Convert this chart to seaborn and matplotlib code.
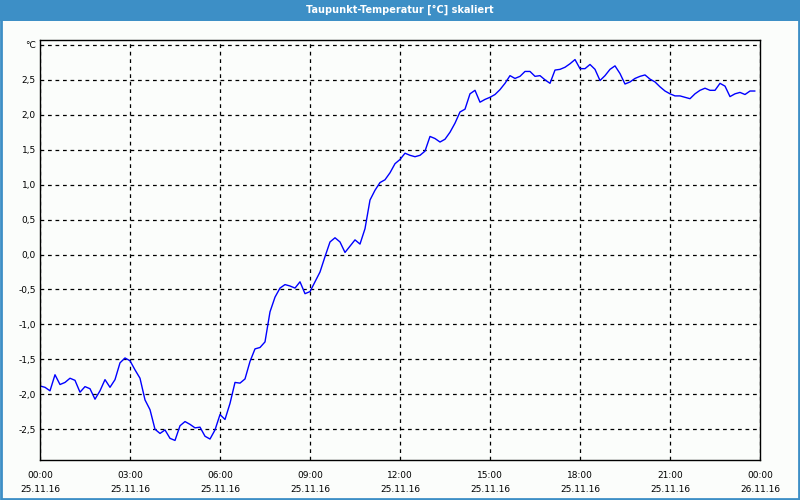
import numpy as np
import pandas as pd
import seaborn as sns
import matplotlib.pyplot as plt
import matplotlib.dates as mdates
from matplotlib.patches import Rectangle

# dew point, one reading every 10 minutes from 25.11.16 00:00
start = "2016-11-25 00:00"
step = "10min"
taupunkt = [
    -1.88, -1.90, -1.95, -1.72, -1.86, -1.83, -1.77, -1.80, -1.97, -1.89,
    -1.92, -2.07, -1.95, -1.79, -1.90, -1.79, -1.55, -1.48, -1.52, -1.65,
    -1.77, -2.08, -2.22, -2.50, -2.56, -2.51, -2.63, -2.66, -2.45, -2.39,
    -2.43, -2.48, -2.47, -2.60, -2.64, -2.51, -2.29, -2.36, -2.13, -1.83,
    -1.84, -1.78, -1.53, -1.35, -1.33, -1.25, -0.82, -0.61, -0.48, -0.43,
    -0.45, -0.48, -0.39, -0.56, -0.53, -0.39, -0.25, -0.03, 0.18, 0.24,
    0.18, 0.03, 0.12, 0.21, 0.15, 0.37, 0.78, 0.92, 1.03, 1.07,
    1.17, 1.30, 1.36, 1.45, 1.42, 1.40, 1.42, 1.48, 1.69, 1.66,
    1.61, 1.65, 1.75, 1.88, 2.04, 2.08, 2.30, 2.35, 2.18, 2.22,
    2.25, 2.29, 2.36, 2.45, 2.56, 2.52, 2.55, 2.62, 2.62, 2.55,
    2.56, 2.50, 2.45, 2.64, 2.65, 2.68, 2.73, 2.79, 2.66, 2.66,
    2.72, 2.65, 2.49, 2.56, 2.65, 2.70, 2.59, 2.44, 2.47, 2.52,
    2.55, 2.57, 2.51, 2.47, 2.40, 2.34, 2.30, 2.27, 2.27, 2.25,
    2.23, 2.30, 2.35, 2.38, 2.35, 2.35, 2.45, 2.41, 2.26, 2.30,
    2.32, 2.29, 2.34, 2.34,
]
y_ticks = [-2.5, -2.0, -1.5, -1.0, -0.5, 0.0, 0.5, 1.0, 1.5, 2.0, 2.5, 3.0]
y_labels = ["-2,5", "-2,0", "-1,5", "-1,0", "-0,5", "0,0",
            "0,5", "1,0", "1,5", "2,0", "2,5", "°C"]
title = "Taupunkt-Temperatur [°C] skaliert"

df = pd.DataFrame({
    "zeit": pd.date_range(start, periods=len(taupunkt), freq=step),
    "wert": taupunkt,
})

sns.set_style("white")
plt.rcParams["font.family"] = ["DejaVu Sans"]

bg = "#fbfdfb"
blue = "#3d8fc6"

fig = plt.figure(figsize=(8, 5), dpi=100, facecolor=bg)
ax = fig.add_axes([0.05, 0.08, 0.90, 0.84])
ax.set_facecolor(bg)

sns.lineplot(data=df, x="zeit", y="wert", ax=ax, color="#0000ff", linewidth=1)

ax.set_xlim(pd.Timestamp("2016-11-25 00:00"), pd.Timestamp("2016-11-26 00:00"))
ax.set_ylim(-2.94, 3.07)
ax.set_yticks(y_ticks)
ax.set_yticklabels(y_labels)
ax.xaxis.set_major_locator(mdates.HourLocator(byhour=range(0, 24, 3)))
ax.xaxis.set_minor_locator(mdates.HourLocator())
ax.xaxis.set_major_formatter(mdates.DateFormatter("%H:%M\n%d.%m.%y"))
ax.set_xlabel("")
ax.set_ylabel("")

ax.grid(True, which="major", color="black", linestyle=(0, (3, 3)), linewidth=0.9)
ax.tick_params(axis="y", length=0, pad=3, labelsize=6.5, colors="black")
ax.tick_params(axis="x", which="both", direction="out", length=3, width=0.8,
               pad=5, labelsize=6.5, colors="black")
for s in ax.spines.values():
    s.set_color("black")
    s.set_linewidth(1)

# window frame and title bar
fig.patches.append(Rectangle((0, 1 - 21 / 500), 1, 21 / 500, transform=fig.transFigure,
                             facecolor=blue, edgecolor="none", zorder=0))
fig.patches.append(Rectangle((0.001, 0.002), 0.998, 0.996, transform=fig.transFigure,
                             facecolor="none", edgecolor=blue, linewidth=2, zorder=0))
fig.text(0.5, 1 - 10 / 500, title, color="white", fontsize=7, fontweight="bold",
         ha="center", va="center")

fig.canvas.draw()
for lbl in ax.get_xticklabels():
    lbl.set_linespacing(1.7)

fig.savefig("out.png", dpi=100, facecolor=bg)
